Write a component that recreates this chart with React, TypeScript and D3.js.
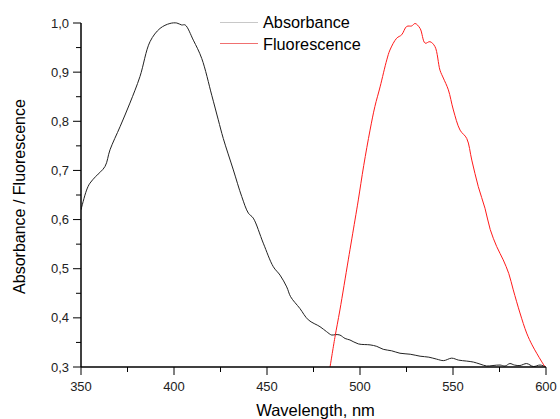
import React from "react";
import * as d3 from "d3";

const absWl = [350, 353, 354.8, 358, 362.9, 365.6, 371, 376.3, 381.7, 387.1, 392.5, 397.8, 401.5, 404.1, 406, 410.4, 414.9, 420.3, 423.8, 426.5, 431.9, 436.4, 440, 442.6, 448, 453.4, 457, 460.6, 462.7, 467.7, 472.2, 478.5, 482, 484.8, 487, 489.2, 492, 494.6, 499.1, 505.4, 509, 512.5, 517, 521.5, 527, 532.3, 537, 541.2, 545, 549.3, 553, 557.4, 561, 564.5, 568.1, 571.5, 575.3, 578, 580.6, 583, 586, 589.6, 593.2, 596.8, 599.5];
const absVal = [0.62, 0.66, 0.674, 0.688, 0.708, 0.742, 0.789, 0.837, 0.891, 0.962, 0.989, 0.999, 1.0, 0.996, 0.996, 0.965, 0.928, 0.853, 0.803, 0.765, 0.701, 0.647, 0.613, 0.603, 0.552, 0.504, 0.487, 0.463, 0.443, 0.419, 0.396, 0.382, 0.372, 0.365, 0.366, 0.365, 0.358, 0.355, 0.347, 0.345, 0.342, 0.336, 0.333, 0.328, 0.326, 0.322, 0.32, 0.316, 0.313, 0.318, 0.314, 0.312, 0.31, 0.306, 0.302, 0.303, 0.304, 0.302, 0.307, 0.304, 0.303, 0.307, 0.301, 0.304, 0.301];

const fluWl = [483.9, 486.5, 489.2, 493.7, 497.3, 499.1, 502, 505.4, 508, 510.8, 514.4, 516.1, 519.7, 522.4, 525.1, 527.8, 529.6, 532.3, 535, 537.6, 540.3, 543, 544.8, 547.5, 550.2, 553.8, 557.4, 560.1, 563.6, 567.2, 570, 573.5, 577, 580, 582.4, 586, 589.6, 592.5, 595, 597.5, 599.5];
const fluVal = [0.3, 0.36, 0.416, 0.518, 0.599, 0.64, 0.71, 0.782, 0.83, 0.87, 0.925, 0.945, 0.969, 0.976, 0.993, 0.994, 0.999, 0.989, 0.959, 0.962, 0.952, 0.904, 0.888, 0.864, 0.823, 0.782, 0.765, 0.721, 0.667, 0.623, 0.58, 0.545, 0.518, 0.49, 0.457, 0.41, 0.369, 0.345, 0.328, 0.312, 0.3];

const xTicks = [350, 400, 450, 500, 550, 600];
const xMinor = [375, 425, 475, 525, 575];
const yTicks = [0.3, 0.4, 0.5, 0.6, 0.7, 0.8, 0.9, 1.0];
const yMinor = [0.35, 0.45, 0.55, 0.65, 0.75, 0.85, 0.95];

const seriesNames = ["Absorbance", "Fluorescence"];

export default function App() {
  const W = 560, H = 419;
  const left = 81, right = 546, top = 23, bottom = 367;
  const x = d3.scaleLinear().domain([350, 600]).range([left, right]);
  const y = d3.scaleLinear().domain([0.3, 1.0]).range([bottom, top]);
  const line = d3
    .line<[number, number]>()
    .x((d) => x(d[0]))
    .y((d) => y(d[1]))
    .curve(d3.curveCatmullRom.alpha(0.5));
  const absPts: [number, number][] = absWl.map((w, i) => [w, absVal[i]]);
  const fluPts: [number, number][] = fluWl.map((w, i) => [w, fluVal[i]]);
  const font = "'Liberation Sans', Arial, sans-serif";
  const fmt = (v: number) => v.toFixed(1).replace(".", ",");

  return (
    <svg
      width={W}
      height={H}
      style={{ position: "absolute", left: 0, top: 0, background: "#fff" }}
      fontFamily={font}
    >
      <defs>
        <clipPath id="plotclip">
          <rect x={left} y={top - 2} width={right - left} height={bottom - top + 2} />
        </clipPath>
      </defs>
      <rect x={0} y={0} width={W} height={H} fill="#fff" />
      <g clipPath="url(#plotclip)">
        <path d={line(absPts) || ""} fill="none" stroke="#222" strokeWidth={1} />
        <path d={line(fluPts) || ""} fill="none" stroke="#ff1a1a" strokeWidth={1} />
      </g>
      {/* legend */}
      <line x1={220} x2={258} y1={22.5} y2={22.5} stroke="#c8c8c8" strokeWidth={1} />
      <line x1={220} x2={258} y1={43.5} y2={43.5} stroke="#f07070" strokeWidth={1} />
      <text x={263} y={28} fontSize={16.3} fill="#000">{seriesNames[0]}</text>
      <text x={263} y={49.5} fontSize={16.3} fill="#000">{seriesNames[1]}</text>
      {/* axes */}
      <line x1={left} x2={left} y1={top} y2={bottom} stroke="#000" strokeWidth={1.5} />
      <line x1={left} x2={right} y1={bottom} y2={bottom} stroke="#000" strokeWidth={1.5} />
      {yTicks.map((t) => (
        <g key={"y" + t}>
          <line x1={left - 8} x2={left} y1={y(t)} y2={y(t)} stroke="#000" strokeWidth={1} />
          <text x={left - 12} y={y(t) + 4.5} fontSize={13} textAnchor="end" fill="#222">
            {fmt(t)}
          </text>
        </g>
      ))}
      {yMinor.map((t) => (
        <line key={"ym" + t} x1={left - 5} x2={left} y1={y(t)} y2={y(t)} stroke="#000" strokeWidth={1} />
      ))}
      {xTicks.map((t) => (
        <g key={"x" + t}>
          <line x1={x(t)} x2={x(t)} y1={bottom} y2={bottom + 8} stroke="#000" strokeWidth={1} />
          <text x={x(t)} y={bottom + 24} fontSize={13} textAnchor="middle" fill="#222">
            {t}
          </text>
        </g>
      ))}
      {xMinor.map((t) => (
        <line key={"xm" + t} x1={x(t)} x2={x(t)} y1={bottom} y2={bottom + 5} stroke="#000" strokeWidth={1} />
      ))}
      <text x={(left + right) / 2 + 2} y={416} fontSize={16.5} textAnchor="middle" fill="#000">
        Wavelength, nm
      </text>
      <text
        transform={`translate(25, ${196.5}) rotate(-90)`}
        fontSize={16}
        textAnchor="middle"
        fill="#000"
      >
        Absorbance / Fluorescence
      </text>
    </svg>
  );
}
